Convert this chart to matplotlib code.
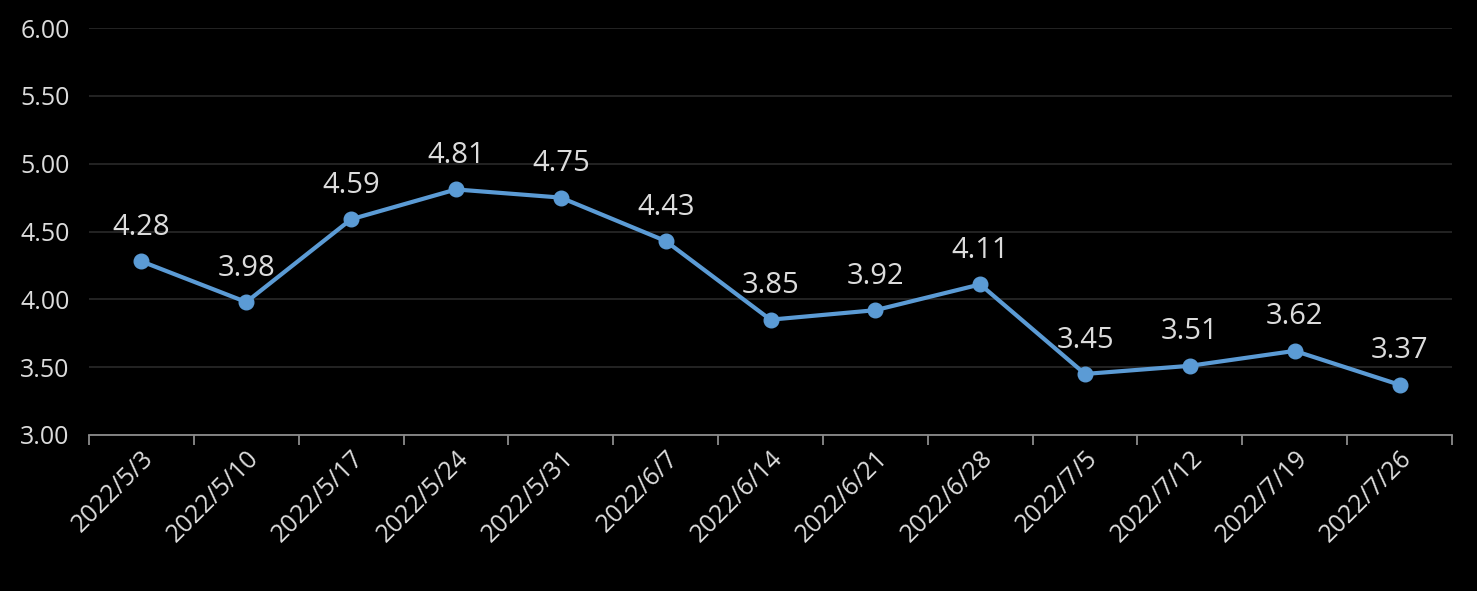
import matplotlib
matplotlib.use("Agg")
import matplotlib.pyplot as plt
import numpy as np

dates = ["2022/5/3", "2022/5/10", "2022/5/17", "2022/5/24", "2022/5/31", "2022/6/7",
         "2022/6/14", "2022/6/21", "2022/6/28", "2022/7/5", "2022/7/12", "2022/7/19", "2022/7/26"]
values = [4.28, 3.98, 4.59, 4.81, 4.75, 4.43, 3.85, 3.92, 4.11, 3.45, 3.51, 3.62, 3.37]
yticks = [3.00, 3.50, 4.00, 4.50, 5.00, 5.50, 6.00]

plt.rcParams['font.family'] = ['Open Sans', 'DejaVu Sans']
txt = '#DCDCDC'
line_c = '#5B9BD5'

fig = plt.figure(figsize=(14.77, 5.91), dpi=100, facecolor='black')
ax = fig.add_axes([89/1477, 1 - 435/591, (1452 - 89)/1477, (435 - 28)/591])
ax.set_facecolor('black')

x = np.arange(len(dates))
ax.plot(x, values, color=line_c, lw=3, marker='o', ms=10.5, mfc=line_c, mec=line_c, zorder=3)
for xi, v in zip(x, values):
    ax.annotate(f"{v:.2f}", (xi, v), xytext=(0, 14), textcoords='offset points',
                ha='center', va='bottom', color=txt, fontsize=21)

ax.set_xlim(-0.5, len(dates) - 0.5)
ax.set_ylim(3.0, 6.0)
ax.set_yticks(yticks)
ax.set_yticklabels([f"{t:.2f}" for t in yticks], color=txt, fontsize=18)
ax.yaxis.grid(True, color='#262626', lw=1.3)
ax.set_axisbelow(True)
ax.tick_params(axis='y', length=0, pad=14)

ax.set_xticks(x)
ax.set_xticklabels(dates, rotation=45, ha='right', rotation_mode='anchor', color=txt, fontsize=18)
ax.tick_params(axis='x', which='major', length=0, pad=8)
ax.set_xticks(np.arange(-0.5, len(dates)), minor=True)
ax.tick_params(axis='x', which='minor', length=7, width=1.3, color='#8C8C8C')

for s in ['top', 'right', 'left']:
    ax.spines[s].set_visible(False)
ax.spines['bottom'].set_color('#8C8C8C')
ax.spines['bottom'].set_linewidth(1.3)

fig.savefig('out.png', dpi=100, facecolor='black')
